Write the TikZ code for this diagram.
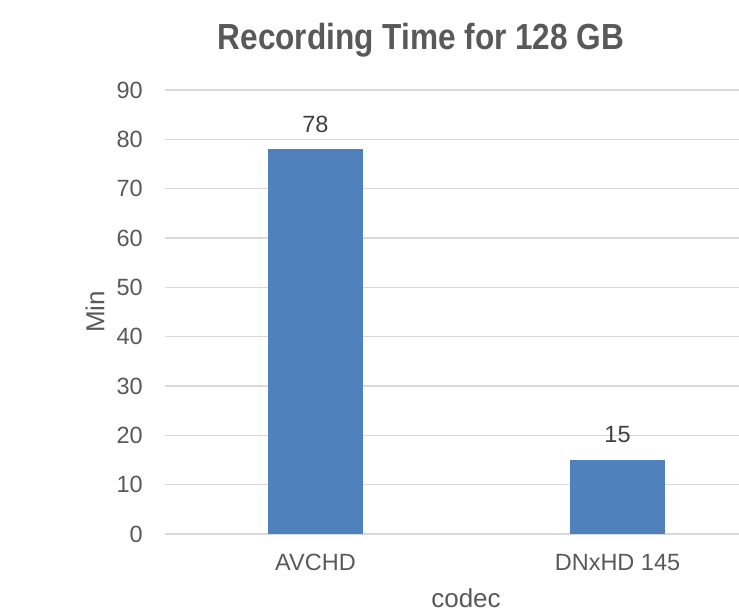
\documentclass[tikz,border=0pt]{standalone}
\usepackage{fontspec}
\usepackage{graphicx}
\setmainfont{Liberation Sans}
\definecolor{barblue}{HTML}{4F81BD}
\definecolor{gridgray}{HTML}{D9D9D9}
\definecolor{txtgray}{HTML}{595959}
\definecolor{lblgray}{HTML}{404040}
\begin{document}
\begin{tikzpicture}[x=1pt,y=-1pt,
  ticklbl/.style={anchor=east,text=txtgray,inner sep=0pt,font=\fontsize{23.5}{28}\selectfont},
  catlbl/.style={anchor=base,text=txtgray,inner sep=0pt,font=\fontsize{23.5}{28}\selectfont},
  datalbl/.style={anchor=base,text=lblgray,inner sep=0pt,font=\fontsize{23.5}{28}\selectfont},
  axtitle/.style={text=txtgray,inner sep=0pt,font=\fontsize{26}{30}\selectfont},
  gridln/.style={draw=gridgray,line width=1.4pt},
  bar/.style={fill=barblue}]
\useasboundingbox (0,0) rectangle (739,614);
% title
\node[anchor=base,text=txtgray,inner sep=0pt,font=\fontsize{36.3}{40}\selectfont\bfseries] (title) at (421,49) {\scalebox{0.87}[1]{Recording Time for 128 GB}};
% gridlines and tick labels
\foreach \v in {0,10,...,90}{
  \pgfmathsetmacro{\yy}{534-4.9333*\v}
  \draw[gridln] (165,\yy) -- (739,\yy);
  \node[ticklbl] (tick\v) at (143,\yy) {\v};
}
% bars
\fill[bar] (268,534) rectangle (363,{534-4.9333*78});
\fill[bar] (570,534) rectangle (665,{534-4.9333*15});
% data labels
\node[datalbl] (d78) at (315.5,132) {78};
\node[datalbl] (d15) at (617.5,442) {15};
% category labels
\node[catlbl] (cavchd) at (315.5,570) {AVCHD};
\node[catlbl] (cdnxhd) at (617.5,570) {DNxHD 145};
% axis titles
\node[axtitle,rotate=90] (ytitle) at (95,312) {Min};
\node[axtitle,anchor=base] (xtitle) at (466,607) {codec};
\end{tikzpicture}
\end{document}
